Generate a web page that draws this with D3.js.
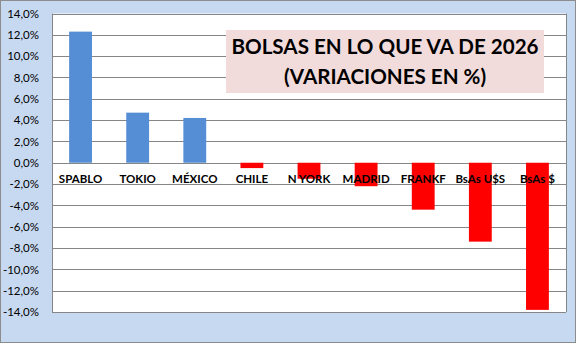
<!DOCTYPE html>
<html><head><meta charset="utf-8">
<script src="https://cdn.jsdelivr.net/npm/d3@7"></script>
<style>body{margin:0;background:#fff}svg{display:block}</style>
</head><body>
<svg id="c" width="576" height="343"></svg>
<script>
const categories = ["SPABLO","TOKIO","MÉXICO","CHILE","N YORK","MADRID","FRANKF","BsAs U$S","BsAs $"];
const values = [12.3, 4.7, 4.2, -0.5, -1.5, -2.2, -4.4, -7.4, -13.8];
const yTicks = [14,12,10,8,6,4,2,0,-2,-4,-6,-8,-10,-12,-14];
const titleLines = ["BOLSAS EN LO QUE VA DE 2026","(VARIACIONES EN %)"];

const W=576,H=343;
const svg=d3.select("#c");
const m={l:52,r:566,t:13.5,b:312};
svg.append("rect").attr("x",0.5).attr("y",0.5).attr("width",W-1).attr("height",H-1)
  .attr("fill","#c6d9f0").attr("stroke","#8c8c8c");
svg.append("rect").attr("x",m.l).attr("y",m.t).attr("width",m.r-m.l).attr("height",m.b-m.t)
  .attr("fill","#fff");

const x=d3.scaleBand().domain(categories).range([m.l,m.r]).paddingInner(0.6).paddingOuter(0.3);
const y=d3.scaleLinear().domain([-14,14]).range([m.b,m.t]);

const g=svg.append("g");
g.selectAll("line.grid").data(yTicks).join("line")
  .attr("x1",m.l).attr("x2",m.r).attr("y1",d=>Math.round(y(d))+0.5).attr("y2",d=>Math.round(y(d))+0.5)
  .attr("stroke","#868686").attr("stroke-width",1);
svg.append("line").attr("x1",m.l+0.5).attr("x2",m.l+0.5).attr("y1",m.t).attr("y2",m.b).attr("stroke","#868686");
svg.append("line").attr("x1",m.r+0.5).attr("x2",m.r+0.5).attr("y1",m.t).attr("y2",m.b).attr("stroke","#868686");

// y axis labels
const fmt=d=>d.toFixed(1).replace(".",",")+"%";
const yAxis=d3.axisLeft(y).tickValues(yTicks).tickFormat(fmt).tickSize(0).tickPadding(13);
const ya=svg.append("g").attr("transform",`translate(${m.l},0)`).call(yAxis);
ya.select(".domain").remove();
ya.selectAll("text").attr("font-family","Lato, 'Open Sans', sans-serif").attr("font-size","11.5px").attr("fill","#000");

// bars
svg.selectAll("rect.bar").data(values).join("rect").attr("class","bar")
  .attr("x",(d,i)=>x(categories[i])).attr("width",x.bandwidth())
  .attr("y",d=>y(Math.max(0,d))).attr("height",d=>Math.abs(y(d)-y(0)))
  .attr("fill",d=>d>=0?"#558ed5":"#ff0000");

// category labels
svg.selectAll("text.cat").data(categories).join("text").attr("class","cat")
  .attr("x",d=>x(d)+x.bandwidth()/2).attr("y",y(0)+20)
  .attr("text-anchor","middle").attr("font-family","Lato, 'Open Sans', sans-serif")
  .attr("font-weight","bold").attr("font-size","11.5px").attr("fill","#000").text(d=>d);

// title
svg.append("rect").attr("x",226).attr("y",30).attr("width",318).attr("height",63).attr("fill","#f2dcdb");
svg.selectAll("text.title").data(titleLines).join("text").attr("class","title")
  .attr("x",385).attr("y",(d,i)=>54+i*30).attr("text-anchor","middle")
  .attr("font-family","Lato, 'Open Sans', sans-serif").attr("font-weight","bold").attr("font-size","20.6px")
  .attr("fill","#000").text(d=>d);
</script>
</body></html>
